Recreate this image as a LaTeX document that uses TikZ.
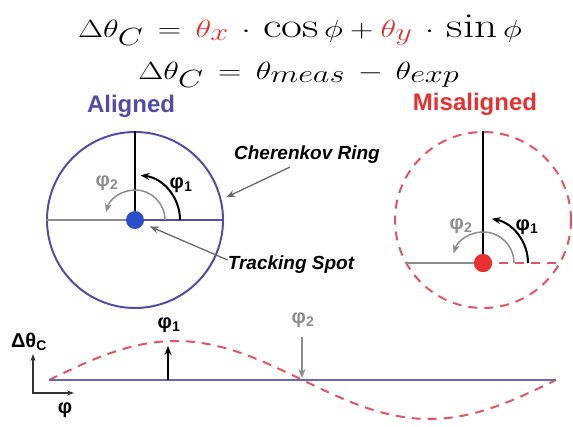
\documentclass[tikz,border=0pt]{standalone}
\usepackage{fontspec}
\setsansfont{Liberation Sans}
\usetikzlibrary{arrows.meta, positioning}

\definecolor{ringblue}{RGB}{80,76,168}
\definecolor{spotblue}{RGB}{40,78,200}
\definecolor{misred}{RGB}{232,48,48}
\definecolor{dashred}{RGB}{226,84,96}
\definecolor{phigray}{RGB}{140,140,140}
\definecolor{callgray}{RGB}{105,105,105}

\begin{document}
\begin{tikzpicture}[
    x=1pt, y=-1pt,
    eq/.style={font=\fontsize{35}{42}\selectfont, inner sep=0, xscale=1.3, anchor=base},
    title/.style={font=\fontsize{24}{28}\selectfont\sffamily\bfseries, inner sep=0},
    callout/.style={font=\fontsize{19}{23}\selectfont\sffamily\bfseries\itshape, inner sep=0},
    philab/.style={font=\fontsize{20}{24}\selectfont\sffamily\bfseries, inner sep=0},
    ring/.style={circle, minimum size=176pt, inner sep=0, line width=2pt},
    spot/.style={circle, minimum size=18pt, inner sep=0},
    >={Stealth[length=9pt, width=7pt]}
  ]
  \useasboundingbox (0,0) rectangle (573,426);

  % Equations
  \node[eq] (eqA) at (300,37)
    {$\Delta\theta_C \,=\, {\color{misred}\theta_x}\,\cdot\,\cos\phi + {\color{misred}\theta_y}\,\cdot\,\sin\phi$};
  \node[eq] (eqB) at (299,79) {$\Delta\theta_C \,=\, \theta_{meas} \,-\, \theta_{exp}$};

  % Aligned ring
  \node[title, text=ringblue] (alig) at (131,106) {Aligned};
  \node[ring, draw=ringblue] (ringA) at (135,220) {};
  \draw[phigray, line width=2pt] (ringA.west) -- (ringA.center);
  \draw[ringblue, line width=2pt] (ringA.center) -- (ringA.east);
  \draw[line width=1.5pt] (ringA.center) -- (ringA.north);
  \draw[->, phigray, line width=1.5pt]
    ([shift={(0:30pt)}]ringA.center) arc[start angle=0, end angle=165, radius=30pt];
  \draw[->, line width=2pt]
    ([shift={(0:45pt)}]ringA.center) arc[start angle=0, end angle=83, radius=45pt];
  \node[spot, fill=spotblue] (spotA) at (ringA.center) {};
  \node[philab] (phiA1) at (181,185) {φ\textsubscript{1}};
  \node[philab, text=phigray] (phiA2) at (107,183) {φ\textsubscript{2}};

  % Labels with arrows
  \node[callout] (cher) at (307,155) {Cherenkov Ring};
  \node[callout] (track) at (291,265) {Tracking Spot};
  \draw[->, callgray, line width=1.3pt]
    ([xshift=-17pt, yshift=-3pt]cher.south) -- ([shift={(14:5pt)}]ringA.14);
  \draw[->, callgray, line width=1.3pt, shorten >=7pt]
    ([yshift=5pt]track.west) -- (spotA);

  % Misaligned ring
  \node[title, text=misred] (misal) at (475,104) {Misaligned};
  \node[ring, draw=dashred, dash pattern=on 9pt off 7pt] (ringB) at (483,220) {};
  \node[spot, fill=misred] (spotB) at (483,263) {};
  \coordinate (leftB) at (406,263);
  \coordinate (rightB) at (560,263);
  \draw[phigray, line width=2pt] (leftB) -- (spotB.center);
  \draw[dashred, line width=2pt, dash pattern=on 9pt off 7pt] (spotB.center) -- (rightB);
  \draw[line width=1.5pt] (spotB.center) -- (ringB.north);
  \draw[->, phigray, line width=1.5pt]
    ([shift={(0:31pt)}]spotB.center) arc[start angle=0, end angle=162, radius=31pt];
  \draw[->, line width=2pt]
    ([shift={(0:45pt)}]spotB.center) arc[start angle=0, end angle=79, radius=45pt];
  \node[spot, fill=misred] at (spotB.center) {};
  \node[philab] (phiB1) at (527,227) {φ\textsubscript{1}};
  \node[philab, text=phigray] (phiB2) at (461,226) {φ\textsubscript{2}};

  % Delta theta vs phi
  \coordinate (origin) at (33,393);
  \coordinate (ytip) at (33,354);
  \coordinate (xtip) at (74,393);
  \draw[<->, black!80, line width=1.2pt,
        >={Stealth[length=7pt, width=5pt]}] (ytip) -- (origin) -- (xtip);
  \node[philab] (dtheta) at (29,342) {Δθ\textsubscript{C}};
  \node[philab] (phiax) at (65,410) {φ};

  \coordinate (lineL) at (49,380);
  \coordinate (lineR) at (556,380);
  \draw[dashred, line width=2pt, dash pattern=on 9pt off 7pt]
    plot[domain=49:556, samples=90, smooth] (\x, {380-39*sin((\x-49)/507*360)});
  \draw[ringblue!85, line width=2.5pt] (lineL) -- (lineR);

  \coordinate (peak) at (168,346);
  \coordinate (cross) at (302,337);
  \draw[->, line width=1.5pt] (peak |- lineL) -- (peak);
  \node[philab] (phiC1) at (169,325) {φ\textsubscript{1}};
  \draw[->, phigray, line width=1.5pt] (cross) -- (cross |- 0,378);
  \node[philab, text=phigray] (phiC2) at (303,320) {φ\textsubscript{2}};
\end{tikzpicture}
\end{document}
